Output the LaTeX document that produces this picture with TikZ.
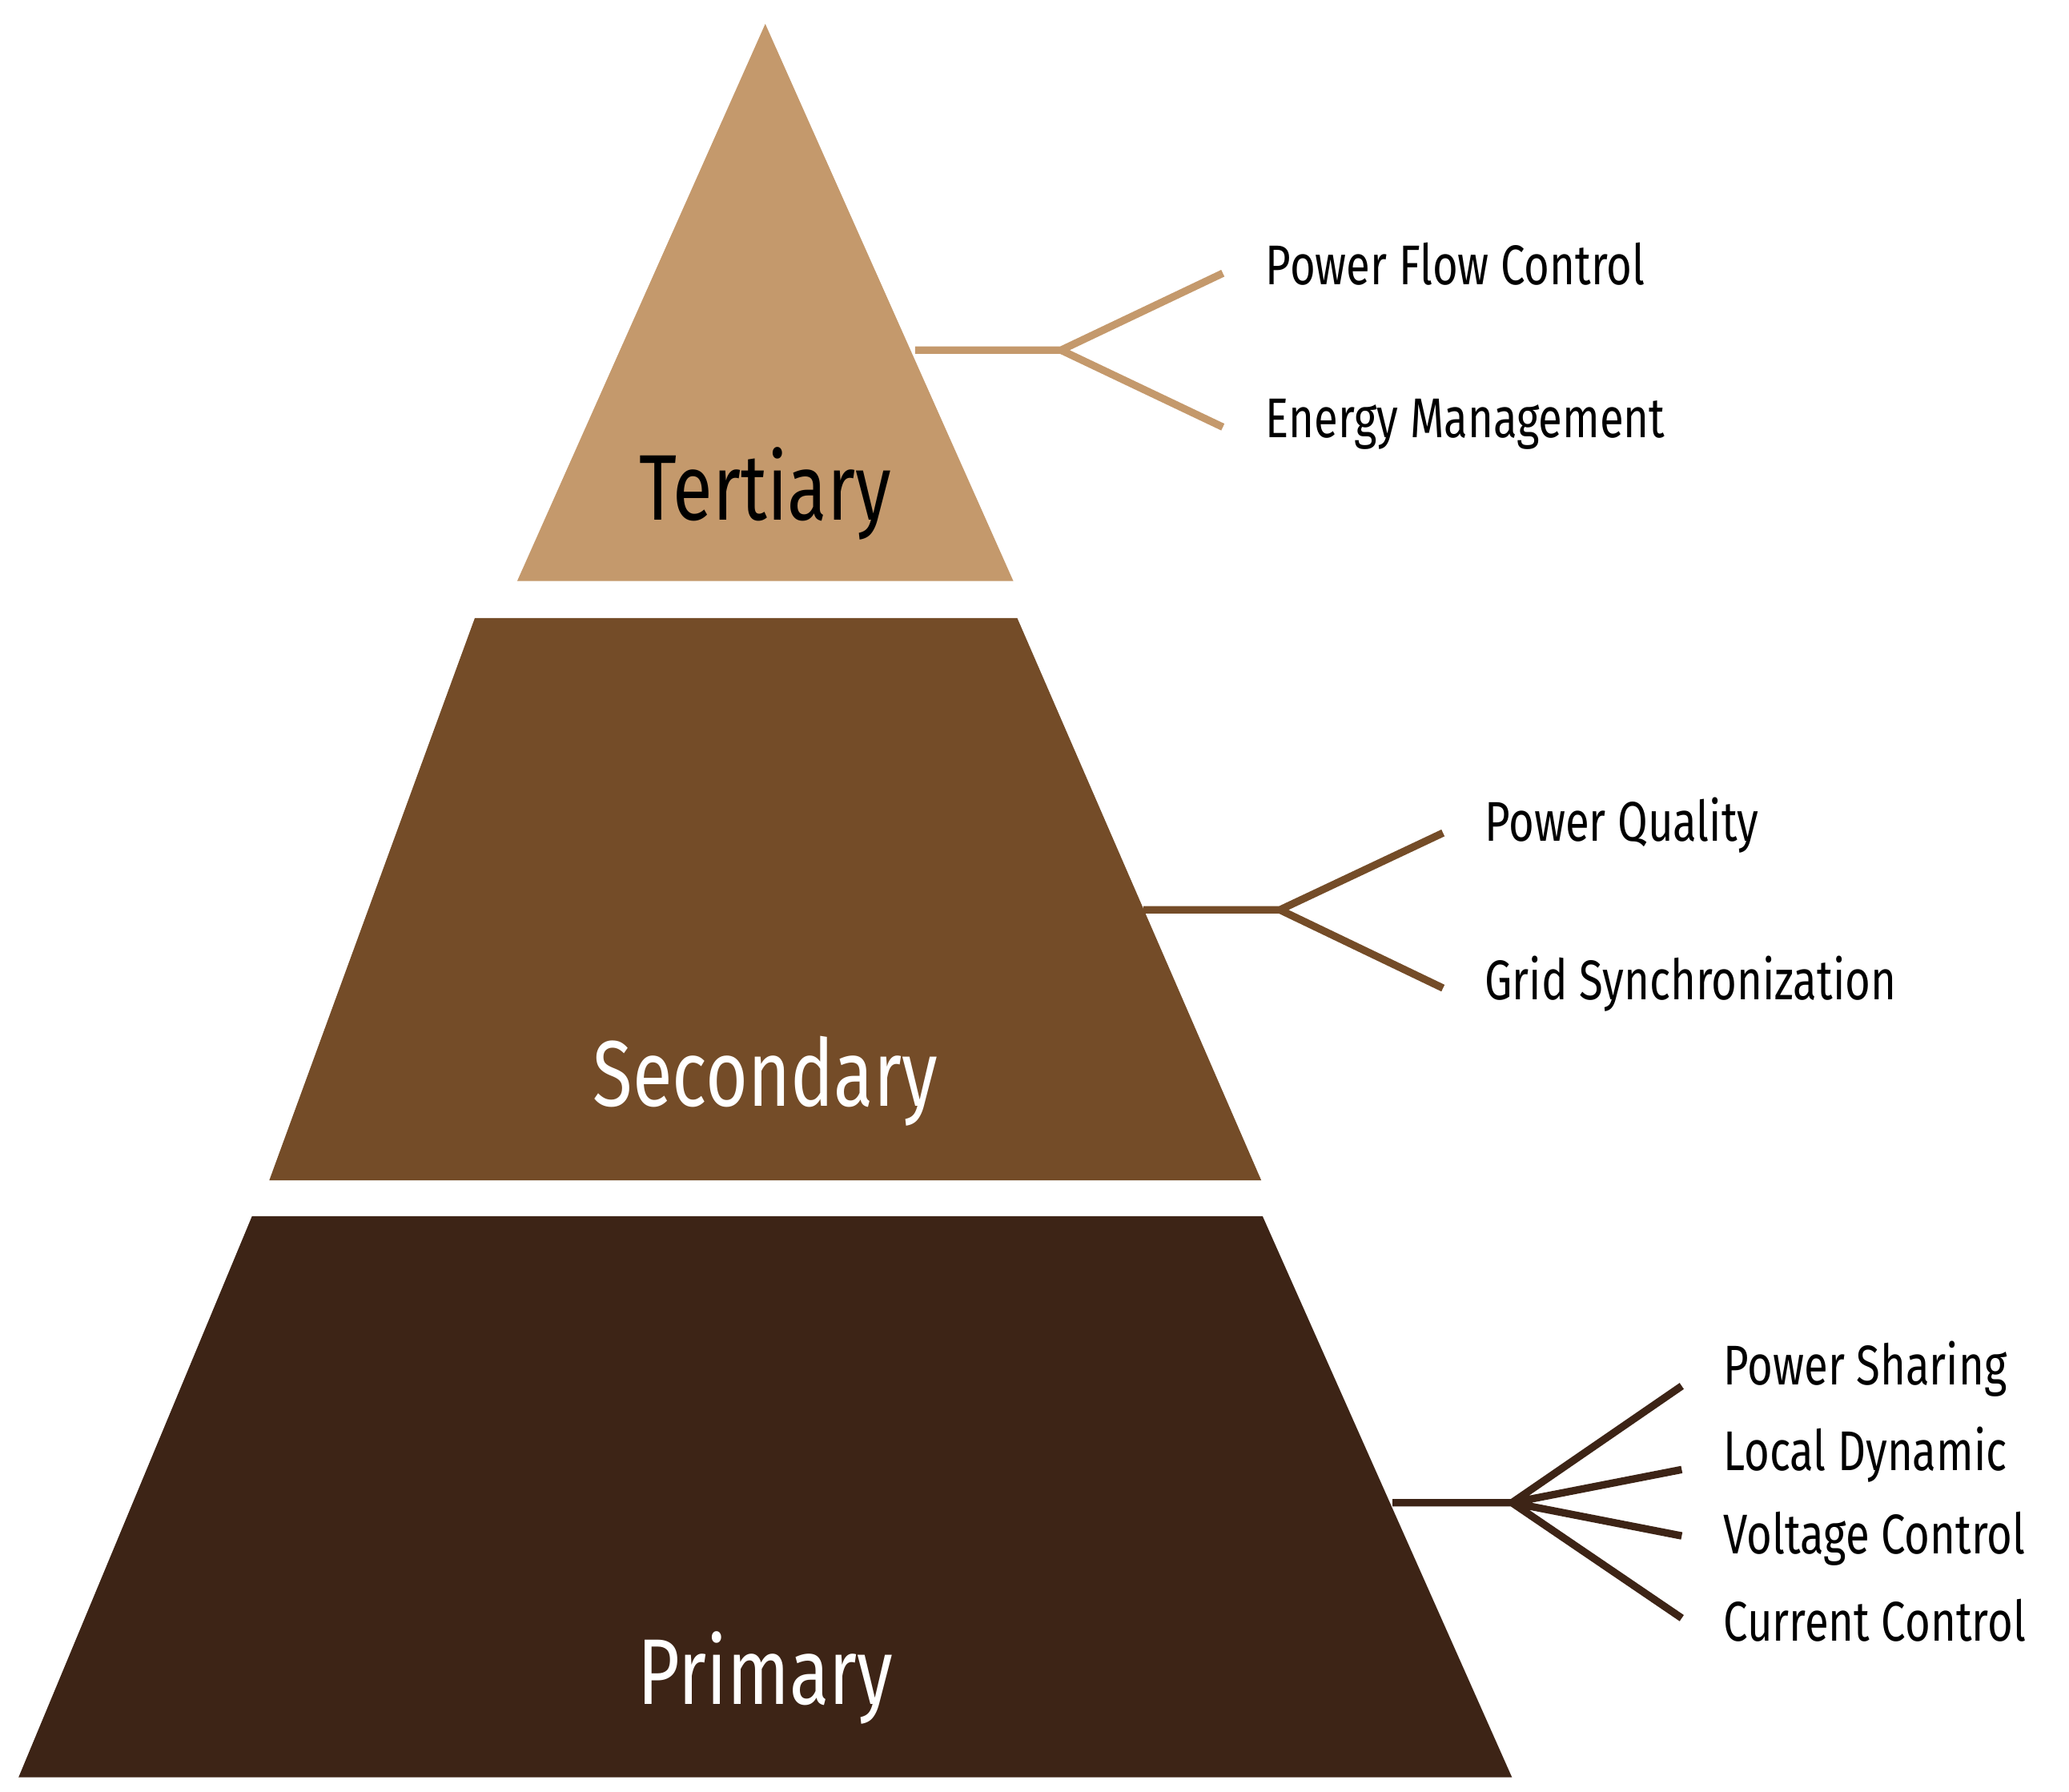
\documentclass[tikz,border=0pt]{standalone}
\usepackage{fontspec}
\setmainfont{Fira Sans}[FakeStretch=0.78]
\definecolor{ter}{HTML}{C4996C}
\definecolor{sec}{HTML}{744C28}
\definecolor{pri}{HTML}{3D2416}
\begin{document}
\begin{tikzpicture}[x=0.01cm,y=-0.01cm,
  big/.style={font=\fontsize{20}{24}\selectfont},
  lab/.style={anchor=west,font=\fontsize{12}{14}\selectfont,text=black},
  br/.style={line width=1.6pt}]
\useasboundingbox (0,0) rectangle (1560,1351);
\fill[ter] (577,18) -- (764,438) -- (390,438) -- cycle;
\fill[sec] (358,466) -- (767,466) -- (951,890) -- (203,890) -- cycle;
\fill[pri] (190,917) -- (952,917) -- (1140,1340) -- (14,1340) -- cycle;
\node[big,text=black] (t) at (577,372) {Tertiary};
\node[big,text=white] (s) at (577,815) {Secondary};
\node[big,text=white] (p) at (577,1265) {Primary};
% tertiary
\coordinate (t0) at (690,264); \coordinate (tj) at (800,264);
\coordinate (t1) at (922,206); \coordinate (t2) at (922,322);
\draw[br,ter] (t0) -- (tj) -- (t1) (tj) -- (t2);
\node[lab] (l1) at (942,199) {Power Flow Control};
\node[lab] (l2) at (942,320) {Energy Management};
% secondary
\coordinate (s0) at (862,686); \coordinate (sj) at (965,686);
\coordinate (s1) at (1088,628); \coordinate (s2) at (1088,745);
\draw[br,sec] (s0) -- (sj) -- (s1) (sj) -- (s2);
\node[lab] (l3) at (1107,622) {Power Quality};
\node[lab] (l4) at (1107,742) {Grid Synchronization};
% primary
\coordinate (p0) at (1050,1133); \coordinate (pj) at (1140,1133);
\coordinate (p1) at (1268,1045); \coordinate (p2) at (1268,1108);
\coordinate (p3) at (1268,1158); \coordinate (p4) at (1268,1220);
\draw[br,pri] (p0) -- (pj) -- (p1) (pj) -- (p2) (pj) -- (p3) (pj) -- (p4);
\node[lab] (l5) at (1287,1032) {Power Sharing};
\node[lab] (l6) at (1287,1097) {Local Dynamic};
\node[lab] (l7) at (1287,1160) {Voltage Control};
\node[lab] (l8) at (1287,1222) {Current Control};
\end{tikzpicture}
\end{document}
